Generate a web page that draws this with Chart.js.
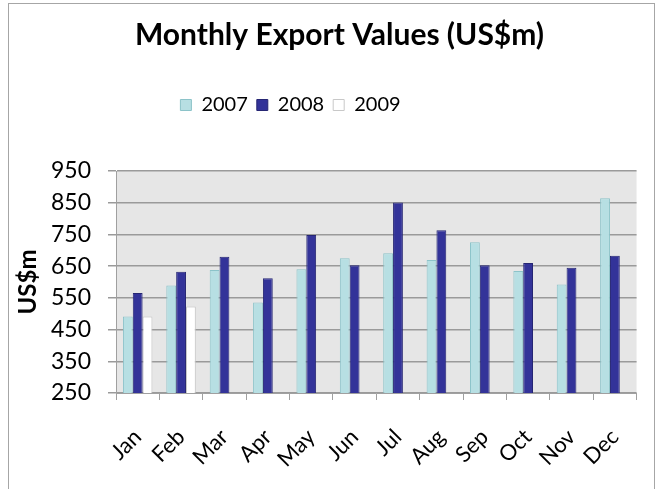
<!DOCTYPE html>
<html>
<head>
<meta charset="utf-8">
<script src="https://cdn.jsdelivr.net/npm/chart.js@4"></script>
<style>
  html, body { margin: 0; padding: 0; background: #fff; }
  #wrap { width: 658px; height: 489px; position: relative; }
</style>
</head>
<body>
<div id="wrap"><canvas id="exportChart"></canvas></div>
<script>
const months = ["Jan", "Feb", "Mar", "Apr", "May", "Jun", "Jul", "Aug", "Sep", "Oct", "Nov", "Dec"];
const values2007 = [491, 589, 638, 535, 640, 675, 691, 669, 725, 635, 592, 864];
const values2008 = [565, 632, 680, 612, 748, 653, 851, 763, 653, 660, 645, 683];
const values2009 = [491, 523];
const yTicks = [250, 350, 450, 550, 650, 750, 850, 950];

const fontName = "Lato, 'Open Sans', sans-serif";

// grey plot area + outer frame, like the Excel original
const frame = {
  id: "frame",
  afterInit(chart) {
    // extra room between legend and plot
    const fit = chart.legend.fit;
    chart.legend.fit = function () {
      fit.call(this);
      this.height += 46;
    };
  },
  beforeDraw(chart) {
    const { ctx, chartArea } = chart;
    ctx.save();
    ctx.strokeStyle = "#a6a6a6";
    ctx.lineWidth = 1;
    ctx.strokeRect(8.5, 3.5, 646, 520);
    ctx.fillStyle = "#e6e6e6";
    ctx.fillRect(chartArea.left, chartArea.top, chartArea.right - chartArea.left, chartArea.bottom - chartArea.top);
    ctx.restore();
  },
  afterLayout(chart) {
    // nudge title and legend to where they sit in the original
    chart.titleBlock.left += 12;
    chart.titleBlock.right += 12;
    chart.legend.left -= 37;
    chart.legend.right -= 37;
  }
};

const ctx = document.getElementById("exportChart").getContext("2d");
const myChart = new Chart(ctx, {
  type: "bar",
  data: {
    labels: months,
    datasets: [
      { label: "2007", data: values2007, backgroundColor: "#b7dfe3", borderColor: "#8cc3c9", borderWidth: 1 },
      { label: "2008", data: values2008, backgroundColor: "#333399", borderColor: "#262673", borderWidth: 1 },
      { label: "2009", data: values2009, backgroundColor: "#ffffff", borderColor: "#c8c8c8", borderWidth: 1 }
    ]
  },
  plugins: [frame],
  options: {
    responsive: true,
    maintainAspectRatio: false,
    animation: false,
    devicePixelRatio: 1,
    datasets: { bar: { categoryPercentage: 0.68, barPercentage: 1.0 } },
    layout: { padding: { left: 8, right: 11, top: 0, bottom: 0 } },
    plugins: {
      title: {
        display: true,
        text: "Monthly Export Values (US$m)",
        color: "#000",
        font: { family: fontName, size: 30, weight: "bold" },
        padding: { top: 17, bottom: 33 }
      },
      legend: {
        display: true,
        position: "top",
        align: "center",
        labels: {
          color: "#000",
          font: { family: fontName, size: 20 },
          boxWidth: 11,
          boxHeight: 11,
          padding: 9
        }
      },
      tooltip: { enabled: false }
    },
    scales: {
      x: {
        grid: { offset: true, drawOnChartArea: false, drawTicks: true, tickLength: 7, color: "#a0a0a0" },
        border: { color: "#a0a0a0" },
        ticks: {
          color: "#000",
          font: { family: fontName, size: 22 },
          maxRotation: 45,
          minRotation: 45,
          padding: 24
        },
        afterFit(scale) { scale.height = 96; }
      },
      y: {
        min: 250,
        max: 950,
        afterBuildTicks(scale) { scale.ticks = yTicks.map(v => ({ value: v })); },
        grid: { color: "#9a9a9a", lineWidth: 1.5, tickLength: 8 },
        border: { color: "#a0a0a0" },
        ticks: {
          color: "#000",
          font: { family: fontName, size: 23 },
          padding: 17
        },
        title: {
          display: true,
          text: "US$m",
          color: "#000",
          font: { family: fontName, size: 24, weight: "bold" },
          padding: { top: 6, bottom: 0 }
        },
        afterFit(scale) { scale.width = 108; }
      }
    }
  }
});
</script>
</body>
</html>
